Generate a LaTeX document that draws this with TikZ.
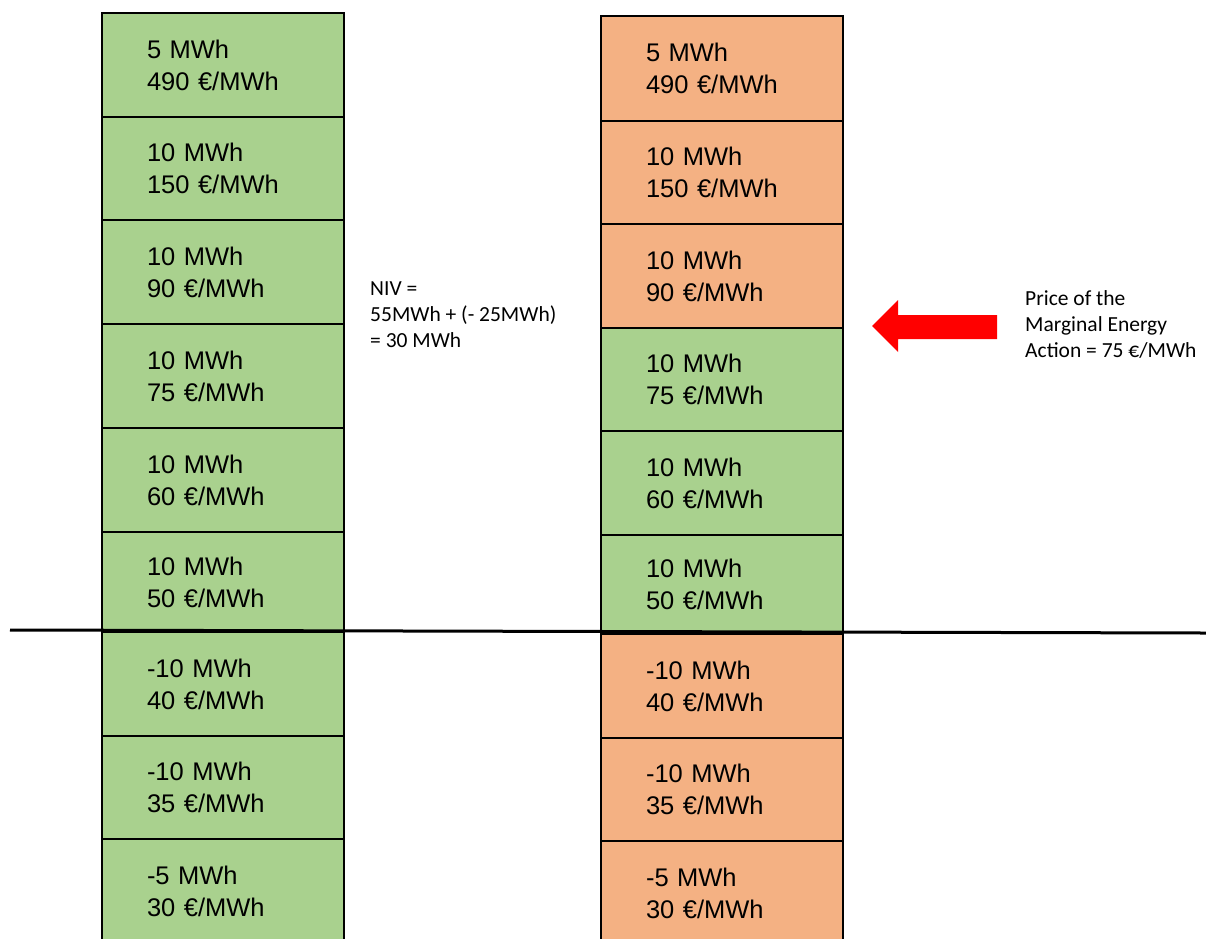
\documentclass[tikz,border=0pt]{standalone}
\usepackage{fontspec}
\setmainfont{Liberation Sans}
\newfontfamily\calibri{Carlito}
\definecolor{boxgreen}{HTML}{A9D18E}
\definecolor{boxorange}{HTML}{F4B183}
\definecolor{arrowred}{HTML}{FF0000}
\begin{document}
\begin{tikzpicture}[x=1pt,y=-1pt,
  cell/.style={draw=black,line width=2pt,anchor=north west,inner xsep=45pt,inner ysep=0pt,
    text width=152pt,align=left,font=\fontsize{25.5}{32}\selectfont,minimum width=242pt},
  gcell/.style={cell,fill=boxgreen},
  ocell/.style={cell,fill=boxorange},
  note/.style={font=\calibri\fontsize{21.5}{26}\selectfont,align=left,anchor=north west,inner sep=0pt}]
\useasboundingbox (0,0) rectangle (1206,938);
\begin{scope}
\clip (0,0) rectangle (1206,938);
% left column
\node[gcell,minimum height=104pt] (l1) at (101,12) {5 MWh\\490 €/MWh};
\node[gcell,minimum height=103pt] (l2) at (101,116) {10 MWh\\150 €/MWh};
\node[gcell,minimum height=104pt] (l3) at (101,219) {10 MWh\\90 €/MWh};
\node[gcell,minimum height=104pt] (l4) at (101,323) {10 MWh\\75 €/MWh};
\node[gcell,minimum height=104pt] (l5) at (101,427) {10 MWh\\60 €/MWh};
\node[gcell,minimum height=100pt] (l6) at (101,531) {10 MWh\\50 €/MWh};
\node[gcell,minimum height=104pt] (l7) at (101,631) {-10 MWh\\40 €/MWh};
\node[gcell,minimum height=103pt] (l8) at (101,735) {-10 MWh\\35 €/MWh};
\node[gcell,minimum height=104pt] (l9) at (101,838) {-5 MWh\\30 €/MWh};
% right column
\node[ocell,minimum height=105pt] (r1) at (600,15) {5 MWh\\490 €/MWh};
\node[ocell,minimum height=103pt] (r2) at (600,120) {10 MWh\\150 €/MWh};
\node[ocell,minimum height=104pt] (r3) at (600,223) {10 MWh\\90 €/MWh};
\node[gcell,minimum height=103pt] (r4) at (600,327) {10 MWh\\75 €/MWh};
\node[gcell,minimum height=104pt] (r5) at (600,430) {10 MWh\\60 €/MWh};
\node[gcell,minimum height=99pt] (r6) at (600,534) {10 MWh\\50 €/MWh};
\node[ocell,minimum height=104pt] (r7) at (600,633) {-10 MWh\\40 €/MWh};
\node[ocell,minimum height=103pt] (r8) at (600,737) {-10 MWh\\35 €/MWh};
\node[ocell,minimum height=104pt] (r9) at (600,840) {-5 MWh\\30 €/MWh};
\end{scope}
% zero line
\coordinate (z0) at (10,630);
\coordinate (z1) at (1206,633);
\draw[line width=3pt] (z0) -- (z1);
% NIV note
\node[note] (niv) at (370,281) {NIV =\\55MWh + (- 25MWh)\\= 30 MWh};
% red arrow
\fill[arrowred] (872,326) -- (898,300) -- (898,315) -- (997,315) -- (997,339) -- (898,339) -- (898,352) -- cycle;
\node[note] (price) at (1025,290) {Price of the\\Marginal Energy\\Action = 75 €/MWh};
\end{tikzpicture}
\end{document}
